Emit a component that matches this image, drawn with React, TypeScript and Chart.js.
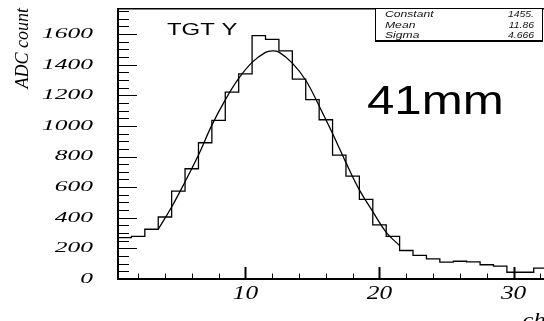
import React, { useEffect, useRef } from 'react';
import { Chart, registerables, LinearScale } from 'chart.js';

// ---- data ----
const binStart = 0.5; // left edge of first bin (bins of width 1, centred on integers)
const counts = [270, 278, 325, 405, 574, 720, 890, 1036, 1220, 1340, 1590, 1565, 1490, 1305, 1171, 1040, 809, 672, 520, 353, 278, 186, 154, 132, 110, 116, 112, 93, 84, 44, 44, 71];
const fitX = [3.5, 4.5, 5.5, 6.5, 7.5, 8.5, 9.5, 10.5, 11.5, 12.0, 12.5, 13.5, 14.5, 15.5, 16.5, 17.5, 18.5, 19.5, 20.5, 21.5];
const fitY = [325, 470, 635, 810, 1005, 1170, 1310, 1415, 1480, 1490, 1482, 1410, 1298, 1130, 950, 760, 582, 440, 305, 218];
const yTicks = [0, 200, 400, 600, 800, 1000, 1200, 1400, 1600];
const xTicks = [10, 20, 30];
const statsLabels = ['Constant', 'Mean', 'Sigma'];
const statsValues = ['1455.', '11.86', '4.666'];
const histTitle = 'TGT Y';
const annotation = '41mm';
const xTitle = 'channel';
const yTitle = 'ADC count';

const X_MIN = 0.5, X_MAX = 36.5, Y_MIN = 0, Y_MAX = 1770;
const Y_MAJOR = 200, Y_MINOR = 50, X_MAJOR = 10, X_MINOR = 2;

const CANVAS_W = 640, CANVAS_H = 321;
const AREA_LEFT = 118, AREA_TOP = 8, AREA_BOTTOM = 279;
const AREA_RIGHT = AREA_LEFT + (X_MAX - X_MIN) * 13.41;

const STRETCH: Record<string, number> = { x: 1.3, y: 1.7 };
const TITLE_STRETCH: Record<string, number> = { x: 1.3 };

function withStretch(ctx: any, sx: number, fn: () => void) {
  const orig = ctx.fillText;
  ctx.fillText = function (t: string, x: number, y: number, m?: number) {
    this.save();
    this.scale(sx, 1);
    if (m === undefined || m === null) orig.call(this, t, x / sx, y);
    else orig.call(this, t, x / sx, y, m / sx);
    this.restore();
  };
  try {
    fn();
  } finally {
    delete ctx.fillText;
  }
}

class StretchScale extends (LinearScale as any) {
  static id = 'stretch';
  static defaults = (LinearScale as any).defaults;
  drawLabels(area: any) {
    const sx = STRETCH[(this as any).id] || 1;
    withStretch((this as any).ctx, sx, () => super.drawLabels(area));
  }
  drawTitle() {
    const sx = TITLE_STRETCH[(this as any).id] || 1;
    withStretch((this as any).ctx, sx, () => super.drawTitle());
  }
}

Chart.register(...registerables, StretchScale as any);

function drawStretched(ctx: CanvasRenderingContext2D, text: string, x: number, y: number, sx: number, align: CanvasTextAlign) {
  ctx.save();
  ctx.translate(x, y);
  ctx.scale(sx, 1);
  ctx.textAlign = align;
  ctx.textBaseline = 'alphabetic';
  ctx.fillText(text, 0, 0);
  ctx.restore();
}

const decorPlugin = {
  id: 'decor',
  afterDatasetsDraw(chart: any) {
    const { ctx, chartArea: a, scales } = chart;
    const xs = scales.x, ys = scales.y;
    ctx.save();
    ctx.strokeStyle = '#000';
    // y ticks (inside)
    ctx.lineWidth = 1;
    ctx.beginPath();
    for (let v = Y_MIN; v <= Y_MAX + 1e-9; v += Y_MINOR) {
      const py = Math.round(ys.getPixelForValue(v)) + 0.5;
      const len = v % Y_MAJOR === 0 ? 19 : 11;
      ctx.moveTo(a.left, py);
      ctx.lineTo(a.left + len, py);
    }
    ctx.stroke();
    // x ticks (inside)
    for (let v = X_MINOR; v <= X_MAX; v += X_MINOR) {
      const px = Math.round(xs.getPixelForValue(v)) + 0.5;
      const major = v % X_MAJOR === 0;
      ctx.lineWidth = major ? 2 : 1;
      ctx.beginPath();
      ctx.moveTo(px, a.bottom);
      ctx.lineTo(px, a.bottom - (major ? 12 : 5.5));
      ctx.stroke();
    }
    // frame
    ctx.lineWidth = 2;
    ctx.beginPath();
    ctx.moveTo(a.left, a.top);
    ctx.lineTo(a.left, a.bottom);
    ctx.lineTo(a.right, a.bottom);
    ctx.stroke();
    ctx.lineWidth = 1.5;
    ctx.beginPath();
    ctx.moveTo(a.left, a.top + 0.75);
    ctx.lineTo(a.right, a.top + 0.75);
    ctx.stroke();
    ctx.restore();
  },
  afterDraw(chart: any) {
    const ctx: CanvasRenderingContext2D = chart.ctx;
    ctx.save();
    ctx.fillStyle = '#000';
    // histogram title
    ctx.font = '16.5px "Liberation Sans", Arial, sans-serif';
    drawStretched(ctx, histTitle, 167, 35, 1.45, 'left');
    // annotation
    ctx.font = '40px "Liberation Sans", Arial, sans-serif';
    drawStretched(ctx, annotation, 367, 113.5, 1.23, 'left');
    // stats box
    const bx = 375, by = 8.5, bw = 168, bh = 32;
    ctx.fillStyle = '#fff';
    ctx.fillRect(bx, by, bw, bh);
    ctx.strokeStyle = '#000';
    ctx.lineWidth = 1;
    ctx.strokeRect(bx + 0.5, by, bw - 1, bh);
    ctx.lineWidth = 2;
    ctx.beginPath();
    ctx.moveTo(bx, by + bh + 0.5);
    ctx.lineTo(bx + bw, by + bh + 0.5);
    ctx.stroke();
    ctx.fillStyle = '#111';
    ctx.font = 'italic 9px "Liberation Sans", Arial, sans-serif';
    const rows = [16.5, 28.2, 38.2];
    statsLabels.forEach((l, i) => drawStretched(ctx, l, 385, rows[i], 1.35, 'left'));
    statsValues.forEach((v, i) => drawStretched(ctx, v, 534, rows[i], 1.15, 'right'));
    ctx.restore();
  },
};

export default function App() {
  const ref = useRef<HTMLCanvasElement | null>(null);
  useEffect(() => {
    document.body.style.margin = '0';
    if (!ref.current) return;
    const histPoints = counts.map((c, i) => ({ x: binStart + i, y: c }));
    histPoints.push({ x: binStart + counts.length, y: counts[counts.length - 1] });
    const fitPoints = fitX.map((x, i) => ({ x, y: fitY[i] }));
    const serif = '"Liberation Serif", "Times New Roman", serif';
    const chart = new Chart(ref.current, {
      type: 'line',
      data: {
        datasets: [
          { data: histPoints, stepped: true, borderColor: '#000', borderWidth: 1.3, pointRadius: 0, fill: false },
          { data: fitPoints, tension: 0.4, borderColor: '#000', borderWidth: 1.3, pointRadius: 0, fill: false },
        ],
      },
      options: {
        animation: false,
        responsive: false,
        events: [],
        layout: { padding: { left: 0, top: AREA_TOP, right: CANVAS_W - AREA_RIGHT, bottom: 0 } },
        plugins: { legend: { display: false }, tooltip: { enabled: false } },
        scales: {
          x: {
            type: 'stretch' as any,
            min: X_MIN,
            max: X_MAX,
            grid: { display: false, drawTicks: false },
            border: { display: false },
            afterBuildTicks: (s: any) => { s.ticks = xTicks.map((v) => ({ value: v })); },
            afterFit: (s: any) => { s.height = CANVAS_H - AREA_BOTTOM; s.paddingLeft = 0; s.paddingRight = 0; },
            ticks: {
              color: '#000',
              padding: 3,
              maxRotation: 0,
              autoSkip: false,
              font: { family: serif, size: 19.5, style: 'italic' },
              callback: (v: any) => String(v),
            },
            title: {
              display: true,
              text: xTitle,
              align: 'end',
              color: '#000',
              font: { family: serif, size: 19, style: 'italic' },
              padding: { top: 0, bottom: -10.9 },
            },
          } as any,
          y: {
            type: 'stretch' as any,
            min: Y_MIN,
            max: Y_MAX,
            grid: { display: false, drawTicks: false },
            border: { display: false },
            afterBuildTicks: (s: any) => { s.ticks = yTicks.map((v) => ({ value: v })); },
            afterFit: (s: any) => { s.width = AREA_LEFT; s.paddingTop = 0; s.paddingBottom = 0; },
            ticks: {
              color: '#000',
              padding: 25,
              autoSkip: false,
              font: { family: serif, size: 15, style: 'italic' },
              callback: (v: any) => String(v),
            },
            title: {
              display: true,
              text: yTitle,
              align: 'end',
              color: '#000',
              font: { family: serif, size: 18, style: 'italic' },
              padding: { top: 12, bottom: 0 },
            },
          } as any,
        },
      },
      plugins: [decorPlugin as any],
    });
    return () => chart.destroy();
  }, []);
  return (
    <div style={{ width: 544, height: 321, overflow: 'hidden', position: 'relative', background: '#fff' }}>
      <canvas ref={ref} width={CANVAS_W} height={CANVAS_H} style={{ display: 'block' }} />
    </div>
  );
}
